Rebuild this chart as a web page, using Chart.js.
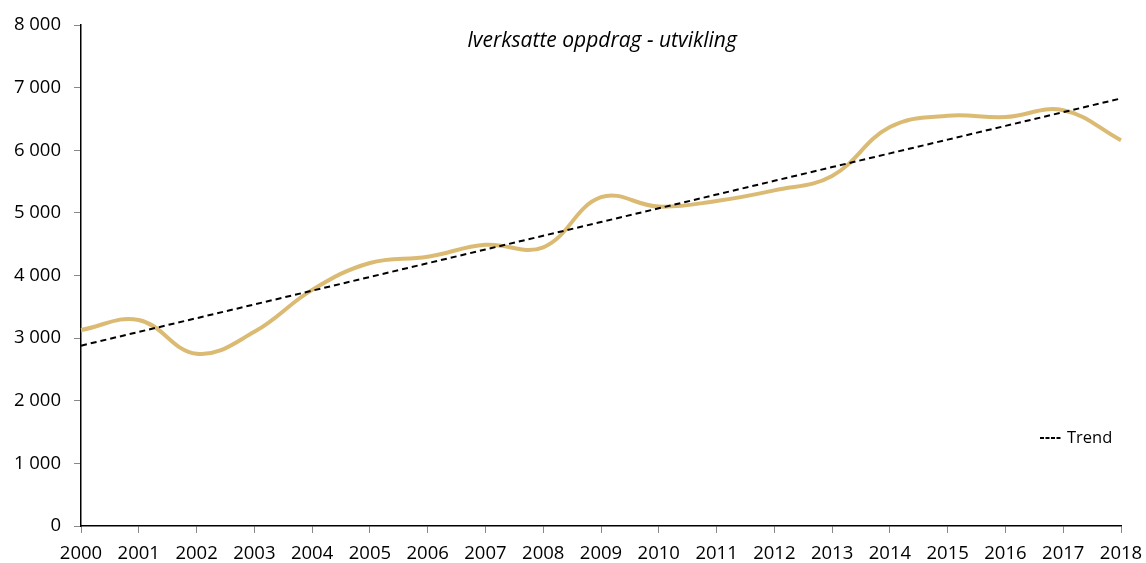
<!DOCTYPE html>
<html>
<head>
<meta charset="utf-8">
<script src="https://cdn.jsdelivr.net/npm/chart.js@4.4.0/dist/chart.umd.min.js"></script>
<style>
  html, body { margin: 0; padding: 0; background: #fff; }
  #wrap { width: 1146px; height: 563px; }
</style>
</head>
<body>
<div id="wrap"><canvas id="chart" width="1146" height="563"></canvas></div>
<script>
// Data
const years = ['2000','2001','2002','2003','2004','2005','2006','2007','2008','2009',
               '2010','2011','2012','2013','2014','2015','2016','2017','2018'];
const oppdrag = [3130, 3290, 2750, 3100, 3770, 4200, 4300, 4490, 4450, 5250,
                 5100, 5190, 5360, 5590, 6370, 6550, 6530, 6640, 6160];
const yTicks = [0, 1000, 2000, 3000, 4000, 5000, 6000, 7000, 8000];
const chartTitle = 'Iverksatte oppdrag - utvikling';
const trendLabel = 'Trend';

// Linear trend (least squares) like the spreadsheet trendline
function linearTrend(vals) {
  const n = vals.length;
  const mx = (n - 1) / 2;
  const my = vals.reduce((a, b) => a + b, 0) / n;
  let num = 0, den = 0;
  vals.forEach((v, i) => { num += (i - mx) * (v - my); den += (i - mx) * (i - mx); });
  const slope = num / den;
  return vals.map((v, i) => my + slope * (i - mx));
}
const trend = linearTrend(oppdrag);

const FONT = "'Open Sans', sans-serif";

// Title and legend sit inside the plot area, so draw them here
const overlay = {
  id: 'overlay',
  afterDraw(chart) {
    const ctx = chart.ctx;
    ctx.save();
    ctx.fillStyle = '#000';
    ctx.font = 'italic 21px ' + FONT;
    ctx.textAlign = 'center';
    ctx.textBaseline = 'middle';
    ctx.fillText(chartTitle, 602, 41);

    // legend entry
    const ly = 438;
    ctx.strokeStyle = '#000';
    ctx.lineWidth = 2;
    ctx.setLineDash([4, 1.5]);
    ctx.beginPath();
    ctx.moveTo(1040, ly);
    ctx.lineTo(1061, ly);
    ctx.stroke();
    ctx.setLineDash([]);
    ctx.font = '16.5px ' + FONT;
    ctx.textAlign = 'left';
    ctx.fillText(trendLabel, 1067, ly);
    ctx.restore();
  }
};

new Chart(document.getElementById('chart'), {
  type: 'line',
  data: {
    labels: years,
    datasets: [
      {
        label: 'Iverksatte oppdrag',
        data: oppdrag,
        borderColor: '#DBBB73',
        borderWidth: 4,
        pointRadius: 0,
        tension: 0.4,
        fill: false,
        order: 2
      },
      {
        label: trendLabel,
        data: trend,
        borderColor: '#000',
        borderWidth: 2,
        borderDash: [6, 4],
        pointRadius: 0,
        tension: 0,
        fill: false,
        order: 1
      }
    ]
  },
  options: {
    responsive: false,
    animation: false,
    layout: { padding: { top: 25, right: 25, left: 1, bottom: 0 } },
    plugins: {
      legend: { display: false },
      title: { display: false },
      tooltip: { enabled: false }
    },
    scales: {
      x: {
        offset: false,
        afterFit(axis) { axis.height = 37; axis.paddingLeft = 0; axis.paddingRight = 0; },
        grid: { drawOnChartArea: false, drawTicks: true, tickLength: 7, color: '#888' },
        border: { color: '#000', width: 1.5 },
        ticks: { color: '#000', font: { family: FONT, size: 18.5 }, maxRotation: 0, autoSkip: false, padding: 10 }
      },
      y: {
        min: 0,
        max: 8000,
        afterBuildTicks(axis) { axis.ticks = yTicks.map(v => ({ value: v })); },
        afterFit(axis) { axis.width = 80; axis.paddingTop = 0; axis.paddingBottom = 0; },
        grid: { drawOnChartArea: false, drawTicks: true, tickLength: 7, color: '#888' },
        border: { color: '#000', width: 1.5 },
        ticks: {
          color: '#000',
          font: { family: FONT, size: 18.5 },
          padding: 13,
          callback: v => v === 0 ? '0' : String(v).replace(/\B(?=(\d{3})+(?!\d))/g, ' ')
        }
      }
    }
  },
  plugins: [overlay]
});
</script>
</body>
</html>
